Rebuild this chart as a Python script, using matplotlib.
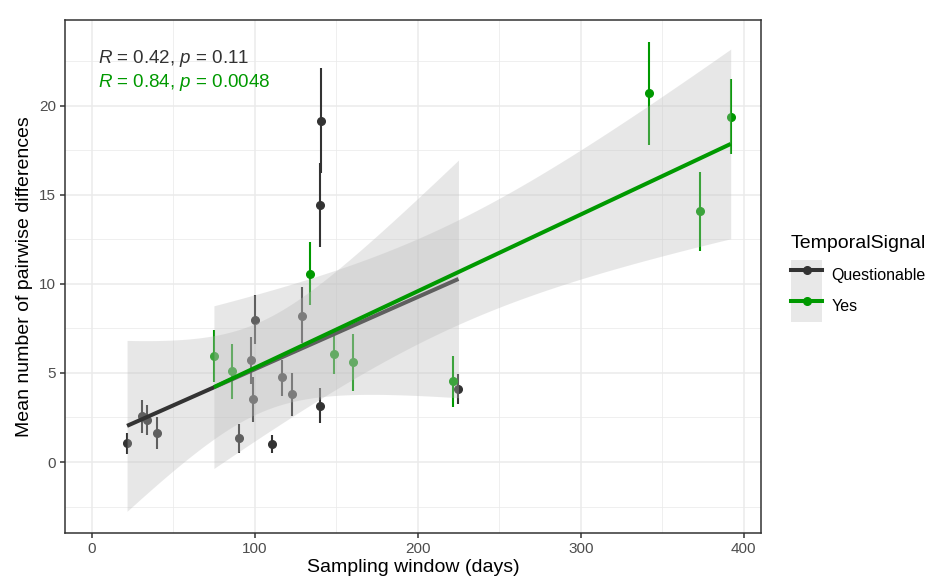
import numpy as np
import matplotlib
matplotlib.use("Agg")
import matplotlib.pyplot as plt
from matplotlib.lines import Line2D
from matplotlib.patches import Patch
from matplotlib.ticker import MultipleLocator

plt.rcParams['font.family'] = ['Liberation Sans', 'DejaVu Sans']
plt.rcParams['mathtext.fontset'] = 'custom'
plt.rcParams['mathtext.rm'] = 'Liberation Sans'
plt.rcParams['mathtext.it'] = 'Liberation Sans:italic'

# Questionable group
q_x = [21.5, 30.5, 34.0, 39.8, 90.0, 99.8, 97.8, 98.8, 110.7, 116.6, 122.8, 129.0, 139.8, 140.8, 139.8, 224.9]
q_y = [1.04, 2.57, 2.37, 1.64, 1.32, 7.99, 5.70, 3.55, 1.02, 4.76, 3.83, 8.19, 3.17, 19.15, 14.43, 4.11]
q_lo = [0.44, 1.60, 1.50, 0.74, 0.50, 6.64, 4.40, 2.24, 0.50, 3.70, 2.60, 6.70, 2.18, 16.20, 12.07, 3.27]
q_hi = [1.62, 3.50, 3.20, 2.50, 2.15, 9.35, 7.00, 4.76, 1.53, 5.70, 5.00, 9.80, 4.15, 22.10, 16.75, 4.96]

# Yes group
y_x = [74.8, 85.9, 133.9, 148.8, 159.9, 221.8, 341.8, 392.0, 372.9]
y_y = [5.93, 5.08, 10.57, 6.08, 5.63, 4.54, 20.69, 19.37, 14.06]
y_lo = [4.48, 3.55, 8.79, 4.96, 4.00, 3.08, 17.78, 17.26, 11.84]
y_hi = [7.43, 6.60, 12.35, 7.05, 7.20, 5.93, 23.58, 21.49, 16.25]

groups = ['Questionable', 'Yes']
colors = {'Questionable': '#333333', 'Yes': '#009900'}
labels = {'Questionable': r'$\mathit{R}$ = 0.42, $\mathit{p}$ = 0.11',
          'Yes': r'$\mathit{R}$ = 0.84, $\mathit{p}$ = 0.0048'}
t_crit = {14: 2.1448, 7: 2.3646}  # 97.5% t quantiles for df = n - 2

data = {'Questionable': (q_x, q_y, q_lo, q_hi), 'Yes': (y_x, y_y, y_lo, y_hi)}

fig = plt.figure(figsize=(9.27, 5.81), dpi=100)
ax = fig.add_axes([0.0701, 0.0821, 0.7512, 0.8835])

# point ranges
for g in groups:
    x, y, lo, hi = map(np.array, data[g])
    ax.vlines(x, lo, hi, color=colors[g], lw=1.5, zorder=2)
    ax.plot(x, y, 'o', color=colors[g], ms=5.5, zorder=2)

# linear fits with 95% confidence bands
z = 3
for g in groups:
    x, y, lo, hi = map(np.array, data[g])
    n = len(x)
    b, a = np.polyfit(x, y, 1)
    xs = np.linspace(x.min(), x.max(), 80)
    fit = a + b * xs
    resid = y - (a + b * x)
    s = np.sqrt(np.sum(resid ** 2) / (n - 2))
    se = s * np.sqrt(1 / n + (xs - x.mean()) ** 2 / np.sum((x - x.mean()) ** 2))
    ci = t_crit[n - 2] * se
    ax.fill_between(xs, fit - ci, fit + ci, color='#b9b9b9', alpha=0.33, lw=0, zorder=z)
    ax.plot(xs, fit, color=colors[g], lw=2.9, zorder=z + 1, solid_capstyle='butt')
    z += 2

ax.text(3.7, 22.65, labels['Questionable'], color=colors['Questionable'], fontsize=13.5, va='center', ha='left', zorder=10)
ax.text(3.7, 21.3, labels['Yes'], color=colors['Yes'], fontsize=13.5, va='center', ha='left', zorder=10)

ax.set_xlim(-16.6, 410.8)
ax.set_ylim(-4.0, 24.8)
ax.xaxis.set_major_locator(MultipleLocator(100))
ax.xaxis.set_minor_locator(MultipleLocator(50))
ax.yaxis.set_major_locator(MultipleLocator(5))
ax.yaxis.set_minor_locator(MultipleLocator(2.5))
ax.grid(which='major', color='#EBEBEB', lw=1.1, zorder=0)
ax.grid(which='minor', color='#EBEBEB', lw=0.55, zorder=0)
ax.set_axisbelow(True)
for sp in ax.spines.values():
    sp.set_color('#333333')
    sp.set_linewidth(1.1)
ax.tick_params(which='major', length=3.5, width=1.1, color='#333333', labelcolor='#4D4D4D', labelsize=11, pad=3)
ax.tick_params(which='minor', length=0)

ax.set_xlabel('Sampling window (days)', fontsize=14, color='black', labelpad=2)
ax.set_ylabel('Mean number of pairwise differences', fontsize=14, color='black', labelpad=4)

handles = [(Patch(facecolor='#E8E8E8', edgecolor='none'),
            Line2D([], [], color=colors[g], lw=2.9, marker='o', ms=5.5)) for g in groups]
leg = ax.legend(handles, groups, title='TemporalSignal', loc='center left', bbox_to_anchor=(1.022, 0.497),
                frameon=False, fontsize=11.5, title_fontsize=14, handlelength=1.94, handleheight=2.6,
                labelspacing=0.0, handletextpad=0.6, alignment='left', borderaxespad=0.5)
leg._legend_box.sep = 6  # gap between title and keys

fig.savefig('out.png', dpi=100)
